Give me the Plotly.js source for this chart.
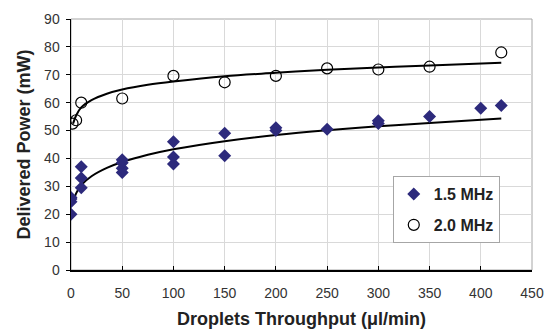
<!DOCTYPE html>
<html>
<head>
<meta charset="utf-8">
<script src="https://cdn.plot.ly/plotly-3.0.1.min.js"></script>
<style>html,body{margin:0;padding:0;background:#fff}#chart{width:546px;height:331px}</style>
</head>
<body>
<div id="chart"></div>
<script>
// 1.5 MHz measured points
const x15 = [0, 0, 0, 0, 10, 10, 10, 50, 50, 50, 50, 100, 100, 100, 150, 150, 200, 200, 250, 300, 300, 350, 400, 420];
const y15 = [20, 24.5, 25.5, 26, 29.5, 33, 37, 35, 36.5, 38.5, 39.5, 38, 40.5, 46, 41, 49, 50, 51, 50.5, 52.5, 53.5, 55, 58, 59];
// 2.0 MHz measured points
const x20 = [1.5, 5, 10, 50, 100, 150, 200, 250, 300, 350, 420];
const y20 = [52.5, 53.7, 60, 61.5, 69.6, 67.3, 69.6, 72.3, 71.9, 72.9, 78];
// trendlines
const xTrend = [2, 5, 10, 20, 35, 50, 75, 100, 150, 200, 250, 300, 350, 420];
const yTrend15 = [24, 27.5, 30.4, 33.6, 36.6, 38.7, 41.3, 43.3, 46.2, 48.4, 50.1, 51.5, 52.7, 54.3];
const yTrend20 = [52.5, 55.4, 58.3, 60.9, 63.2, 64.7, 66.4, 67.6, 69.5, 70.7, 71.8, 72.6, 73.3, 74.3];
const seriesNames = ['1.5 MHz', '2.0 MHz'];

const FONT = 'Liberation Sans, Arial, sans-serif';

const traces = [
  {x: xTrend, y: yTrend15, mode: 'lines', line: {color: '#000', width: 2, shape: 'spline'}, showlegend: false, hoverinfo: 'skip'},
  {x: xTrend, y: yTrend20, mode: 'lines', line: {color: '#000', width: 2, shape: 'spline'}, showlegend: false, hoverinfo: 'skip'},
  {x: x15, y: y15, mode: 'markers', name: seriesNames[0], legendgroup: 'a',
   marker: {symbol: 'diamond', size: 10, color: '#2d2a7c', line: {width: 0}}},
  {x: x20, y: y20, mode: 'markers', name: seriesNames[1], legendgroup: 'b',
   marker: {symbol: 'circle-open', size: 11, color: '#000', line: {width: 1.2, color: '#000'}}}
];

const layout = {
  width: 546, height: 331,
  margin: {l: 71, r: 14, t: 19, b: 61},
  paper_bgcolor: '#fff', plot_bgcolor: '#fff',
  font: {family: FONT, color: '#333'},
  xaxis: {
    range: [0, 450], dtick: 50, tick0: 0,
    showgrid: true, gridcolor: '#d9d9d9', gridwidth: 1,
    zeroline: false, showline: true, linecolor: '#000', linewidth: 1.5,
    ticks: 'inside', ticklen: 4, tickcolor: '#000',
    ticklabelstandoff: 10,
    tickfont: {size: 14, color: '#333'},
    title: {text: 'Droplets Throughput (μl/min)', font: {size: 18, color: '#222', family: FONT, weight: 'bold'}, standoff: 12}
  },
  yaxis: {
    range: [0, 90], dtick: 10, tick0: 0,
    showgrid: true, gridcolor: '#d9d9d9', gridwidth: 1,
    zeroline: false, showline: true, linecolor: '#000', linewidth: 1.5,
    ticks: 'outside', ticklen: 4, tickcolor: '#000',
    ticklabelstandoff: 3,
    tickfont: {size: 14, color: '#333'},
    title: {text: 'Delivered Power (mW)', font: {size: 18, color: '#222', family: FONT, weight: 'bold'}, standoff: 9}
  },
  shapes: [{type: 'rect', xref: 'paper', yref: 'paper', x0: 0, x1: 1, y0: 0, y1: 1,
            line: {color: '#a6a6a6', width: 1}, layer: 'below'}],
  legend: {
    x: 0.698, y: 0.374, xanchor: 'left', yanchor: 'top',
    bgcolor: '#fff', bordercolor: '#a6a6a6', borderwidth: 1,
    font: {size: 16, color: '#222', weight: 'bold'},
    itemwidth: 30, traceorder: 'grouped', tracegroupgap: 7
  },
  showlegend: true
};

Plotly.newPlot('chart', traces, layout, {displayModeBar: false, staticPlot: true});
</script>
</body>
</html>
